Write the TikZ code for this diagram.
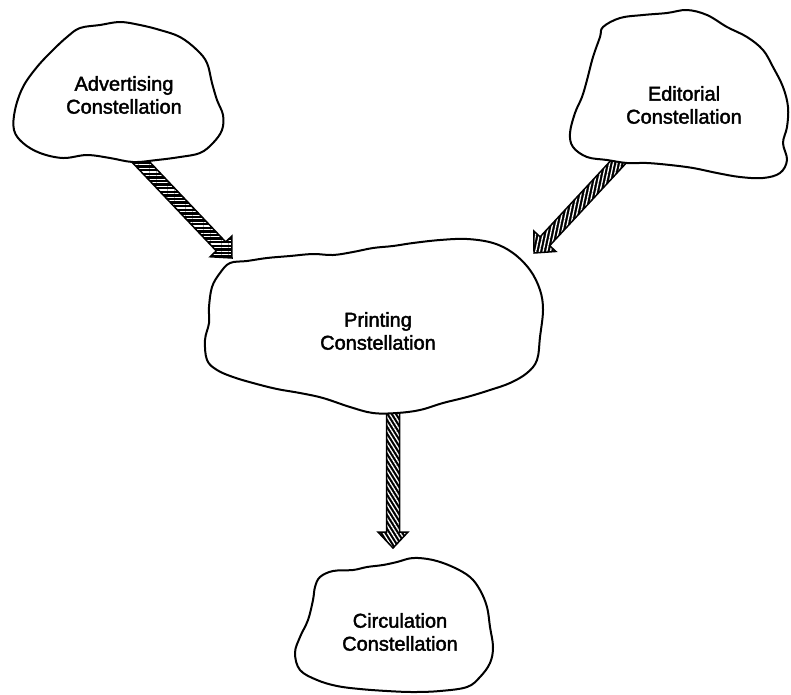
\documentclass[tikz,border=0pt]{standalone}
\usepackage{fontspec}
\setmainfont{Liberation Sans}
\newfontfamily\labelfont{Liberation Sans}[FakeBold=2]
\usetikzlibrary{calc,patterns.meta}

\tikzset{
  cloud outline/.style={draw=black, line width=2pt, fill=white, line join=round},
  label text/.style={align=center, font=\labelfont\fontsize{20}{23}\selectfont, inner sep=0pt},
  fatarrow/.style={preaction={fill=black}, pattern color=white,
                   draw=black, line width=1.5pt, line join=miter},
}

% hatched block arrow: #1 start, #2 tip, #3 hatch angle
\newcommand\hatcharrow[3]{%
  \coordinate (ah) at ($(#2)!16pt!(#1)$);
  \path[fatarrow, pattern={Lines[angle=#3,distance=3.6pt,line width=1.3pt]}]
    ($(#1)!6.5pt!90:(#2)$) -- ($(ah)!6.5pt!90:(#2)$) -- ($(ah)!15pt!90:(#2)$)
    -- (#2) -- ($(ah)!15pt!-90:(#2)$) -- ($(ah)!6.5pt!-90:(#2)$)
    -- ($(#1)!6.5pt!-90:(#2)$) -- cycle;
}

\begin{document}
\begin{tikzpicture}[x=1pt,y=-1pt]
\useasboundingbox (0,0) rectangle (791,694);

% connector end points on the cloud rims
\coordinate (adv-out) at (137,158);
\coordinate (prn-in-a) at (232,258);
\coordinate (edi-out) at (622,158);
\coordinate (prn-in-b) at (534,253);
\coordinate (prn-out) at (393,409);
\coordinate (cir-in) at (393,548);

\hatcharrow{adv-out}{prn-in-a}{0}
\hatcharrow{edi-out}{prn-in-b}{78}
\hatcharrow{prn-out}{cir-in}{-58}

% Advertising cloud
\draw[cloud outline] plot[smooth cycle, tension=0.6] coordinates {
  (15,110) (23,87) (37,67) (53,50) (67,37) (80,28) (100,25) (120,22)
  (140,25) (160,30) (180,37) (197,50) (207,63) (212,83) (217,100)
  (223,115) (222,130) (213,143) (200,153) (180,157) (157,160) (133,162)
  (110,158) (87,155) (63,158) (40,153) (23,143) (14,130)};

% Editorial cloud
\draw[cloud outline] plot[smooth cycle, tension=0.6] coordinates {
  (603,27) (620,18) (643,15) (667,13) (687,10) (707,15) (727,27)
  (747,37) (763,50) (773,67) (783,87) (788,107) (787,127) (783,143)
  (787,160) (780,173) (763,178) (740,177) (717,173) (693,168) (670,165)
  (647,163) (627,163) (607,160) (587,157) (573,147) (570,133) (575,113)
  (582,97) (587,80) (593,57) (600,37)};

% Printing cloud
\draw[cloud outline] plot[smooth cycle, tension=0.6] coordinates {
  (230,263) (247,261) (267,258) (290,256) (313,254) (333,255) (353,252)
  (373,248) (393,246) (413,243) (440,240) (467,239) (493,243) (513,253)
  (530,270) (540,290) (543,310) (540,337) (537,360) (527,373) (510,383)
  (490,390) (467,397) (443,403) (420,410) (397,413) (373,413) (350,407)
  (323,398) (300,393) (277,389) (253,383) (233,377) (217,370) (207,360)
  (205,340) (209,323) (209,307) (212,287) (220,273)};

% Circulation cloud
\draw[cloud outline] plot[smooth cycle, tension=0.6] coordinates {
  (320,577) (333,571) (353,570) (367,567) (383,565) (397,562) (413,558)
  (433,560) (453,567) (470,577) (480,590) (487,607) (490,627) (493,647)
  (490,663) (480,677) (467,687) (440,691) (413,692) (387,691) (360,689)
  (337,686) (317,680) (300,670) (295,653) (300,637) (308,620) (313,600)
  (315,587)};

\node[label text] (adv) at (124,95) {Advertising\\Constellation};
\node[label text] (edi) at (684,105) {Editorial\\Constellation};
\node[label text] (prn) at (378,331) {Printing\\Constellation};
\node[label text] (cir) at (400,632) {Circulation\\Constellation};
\end{tikzpicture}
\end{document}
